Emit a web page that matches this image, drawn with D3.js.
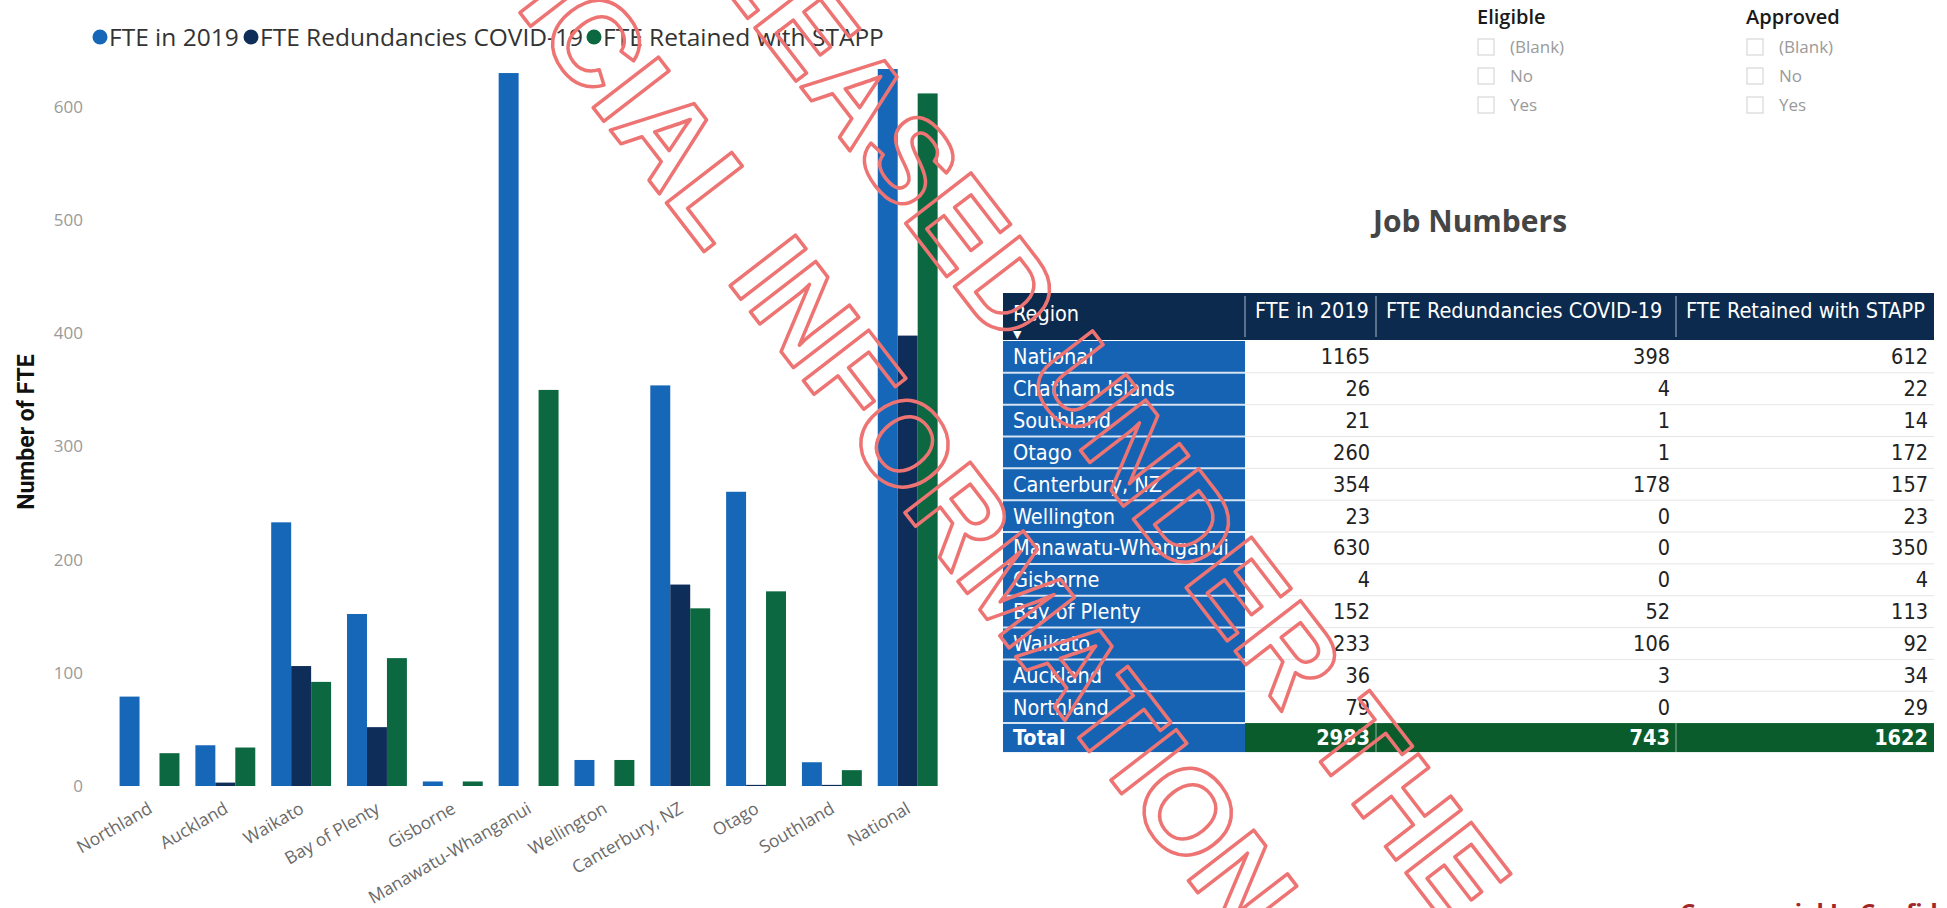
<!DOCTYPE html>
<html><head><meta charset="utf-8">
<script src="https://cdn.jsdelivr.net/npm/d3@7"></script>
<style>body{margin:0;background:#fff;overflow:hidden} svg{display:block}</style>
</head><body><svg id="c" width="1947" height="908"></svg>
<script>
// ---------- chart data ----------
const categories = ["Northland","Auckland","Waikato","Bay of Plenty","Gisborne","Manawatu-Whanganui","Wellington","Canterbury, NZ","Otago","Southland","National"];
const fte2019 = [79, 36, 233, 152, 4, 630, 23, 354, 260, 21, 1165];
const redundancies = [0, 3, 106, 52, 0, 0, 0, 178, 1, 1, 398];
const retained = [29, 34, 92, 113, 4, 350, 23, 157, 172, 14, 612];
const yTicks = [0, 100, 200, 300, 400, 500, 600];
const seriesNames = ["FTE in 2019", "FTE Redundancies COVID-19", "FTE Retained with STAPP"];
const seriesColors = ["#1767b8", "#0f2d59", "#0c6840"];
const yTitle = "Number of FTE";

// ---------- table data ----------
const tableHeaders = ["Region", "FTE in 2019", "FTE Redundancies COVID-19", "FTE Retained with STAPP"];
const tableRegions = ["National","Chatham Islands","Southland","Otago","Canterbury, NZ","Wellington","Manawatu-Whanganui","Gisborne","Bay of Plenty","Waikato","Auckland","Northland"];
const tableFte = [1165, 26, 21, 260, 354, 23, 630, 4, 152, 233, 36, 79];
const tableRed = [398, 4, 1, 1, 178, 0, 0, 0, 52, 106, 3, 0];
const tableRet = [612, 22, 14, 172, 157, 23, 350, 4, 113, 92, 34, 29];
const tableTotals = [2983, 743, 1622];
const tableTitle = "Job Numbers";

// ---------- slicers / annotations ----------
const slicerTitles = ["Eligible", "Approved"];
const slicerItems = ["(Blank)", "No", "Yes"];
const watermarkLines = ["RELEASED UNDER THE", "OFFICIAL INFORMATION ACT"];
const footerText = "Commercial In Confidence";

const svg = d3.select("#c");
svg.append("rect").attr("width",1947).attr("height",908).attr("fill","#fff");

// ================= BAR CHART =================
const baseY = 786, clipTop = 69;
const x0 = d3.scaleBand().domain(categories).range([111.6, 945.6]).paddingInner(0.21).paddingOuter(0.105);
const x1 = d3.scaleBand().domain(d3.range(seriesNames.length)).range([0, x0.bandwidth()]);
const y = d3.scaleLinear().domain([0, 600]).range([baseY, 107]);

svg.append("defs").append("clipPath").attr("id","plotclip")
  .append("rect").attr("x",100).attr("y",clipTop).attr("width",870).attr("height",baseY-clipTop+1);

const series = [fte2019, redundancies, retained];
const plot = svg.append("g").attr("clip-path","url(#plotclip)");
const groups = plot.selectAll("g.grp").data(categories).join("g")
  .attr("class","grp").attr("transform", d => `translate(${x0(d)},0)`);
groups.selectAll("rect").data((d,i) => series.map((s,k) => ({k, v: s[i]}))).join("rect")
  .attr("x", d => x1(d.k)).attr("width", x1.bandwidth())
  .attr("y", d => y(d.v)).attr("height", d => baseY - y(d.v))
  .attr("fill", d => seriesColors[d.k]);

// y axis
const yAxis = svg.append("g").attr("transform","translate(88,0)")
  .call(d3.axisLeft(y).tickValues(yTicks).tickSize(0).tickPadding(5));
yAxis.select(".domain").remove();
yAxis.selectAll("text").attr("font-family","'Open Sans', sans-serif").attr("font-size",17).attr("fill","#9a9a9a");

svg.append("text").attr("transform","translate(26,432) rotate(-90)")
  .attr("text-anchor","middle").attr("dy","0.35em").attr("font-family","'Liberation Sans Narrow','Roboto',sans-serif")
  .attr("font-weight","bold").attr("font-size",23).attr("fill","#111").text(yTitle);

// x axis
const xAxis = svg.append("g").attr("transform",`translate(0,${baseY})`)
  .call(d3.axisBottom(x0).tickSize(0).tickPadding(0));
xAxis.select(".domain").remove();
xAxis.selectAll("text").attr("y",0).attr("dy",0)
  .attr("text-anchor","end").attr("transform","translate(4,26) rotate(-30)")
  .attr("font-family","'Open Sans', sans-serif").attr("font-size",17.5).attr("fill","#6a6a6a");

// legend
const legend = svg.append("g").attr("transform","translate(0,37)");
const legendX = [100, 251, 594];
seriesNames.forEach((name,i) => {
  legend.append("circle").attr("cx",legendX[i]).attr("cy",0).attr("r",7.5).attr("fill",seriesColors[i]);
  legend.append("text").attr("x",legendX[i]+9).attr("y",0).attr("dy","0.35em")
    .attr("font-family","'Open Sans', sans-serif").attr("font-size",24.5).attr("fill","#333").text(name);
});

// ================= SLICERS =================
const slicerX = [1477, 1746];
slicerTitles.forEach((title,i) => {
  const g = svg.append("g").attr("transform",`translate(${slicerX[i]},0)`);
  g.append("text").attr("x",0).attr("y",17).attr("dy","0.35em")
    .attr("font-family","'Open Sans', sans-serif").attr("font-weight","600").attr("font-size",20)
    .attr("fill","#1a1a1a").text(title);
  slicerItems.forEach((item,j) => {
    const cy = 47 + j*29;
    g.append("rect").attr("x",1).attr("y",cy-8).attr("width",16).attr("height",16)
      .attr("fill","none").attr("stroke","#d8d8d8").attr("stroke-width",1.2);
    g.append("text").attr("x",33).attr("y",cy).attr("dy","0.35em")
      .attr("font-family","'Open Sans', sans-serif").attr("font-size",17).attr("fill","#9a9a9a").text(item);
  });
});

// ================= TABLE =================
svg.append("text").attr("x",1470).attr("y",221).attr("dy","0.35em").attr("text-anchor","middle")
  .attr("font-family","'Open Sans', sans-serif").attr("font-weight","bold").attr("font-size",30)
  .attr("fill","#454545").text(tableTitle);

const colX = [1003, 1245, 1376, 1676, 1934];
const headTop = 293, headH = 47, rowTop = 341, rowH = 31.84;
const totTop = rowTop + tableRegions.length*rowH, totH = 29;
const tf = "'Liberation Sans Narrow','DejaVu Sans Condensed','Roboto',sans-serif";
const tbl = svg.append("g");

// header
tbl.append("rect").attr("x",colX[0]).attr("y",headTop).attr("width",colX[4]-colX[0]).attr("height",headH).attr("fill","#0c2a4d");
[1,2,3].forEach(k => tbl.append("line").attr("x1",colX[k]).attr("x2",colX[k]).attr("y1",headTop+3).attr("y2",headTop+headH-3).attr("stroke","#a9b6c6").attr("stroke-width",1));
tableHeaders.forEach((h,k) => {
  tbl.append("text").attr("x",colX[k]+10).attr("y",k===0?313:310).attr("dy","0.35em")
    .attr("font-family",tf).attr("font-size",21.5).attr("fill","#fff").text(h);
});
tbl.append("text").attr("x",1013).attr("y",334).attr("dy","0.35em")
  .attr("font-family","'DejaVu Sans',sans-serif").attr("font-size",11).attr("fill","#fff").text("▼");

// label column
tbl.append("rect").attr("x",colX[0]).attr("y",rowTop).attr("width",colX[1]-colX[0]).attr("height",tableRegions.length*rowH+totH).attr("fill","#1763b3");
const valCols = [tableFte, tableRed, tableRet];
tableRegions.forEach((r,i) => {
  const ty = rowTop + i*rowH;
  const cy = ty + rowH/2;
  if (i>0) {
    tbl.append("line").attr("x1",colX[0]).attr("x2",colX[1]).attr("y1",ty).attr("y2",ty).attr("stroke","#d5e3f3").attr("stroke-width",2);
    tbl.append("line").attr("x1",colX[1]).attr("x2",colX[4]).attr("y1",ty).attr("y2",ty).attr("stroke","#e6e6e6").attr("stroke-width",1);
  }
  tbl.append("text").attr("x",colX[0]+10).attr("y",cy).attr("dy","0.35em")
    .attr("font-family",tf).attr("font-size",21.5).attr("fill","#fff").text(r);
  valCols.forEach((vals,k) => {
    tbl.append("text").attr("x",colX[k+2]-6).attr("y",cy).attr("dy","0.35em").attr("text-anchor","end")
      .attr("font-family",tf).attr("font-size",21.5).attr("fill","#222").text(vals[i]);
  });
});
// total row
tbl.append("line").attr("x1",colX[0]).attr("x2",colX[1]).attr("y1",totTop).attr("y2",totTop).attr("stroke","#d5e3f3").attr("stroke-width",2);
tbl.append("rect").attr("x",colX[1]).attr("y",totTop).attr("width",colX[4]-colX[1]).attr("height",totH).attr("fill","#0a5c2c");
[2,3].forEach(k => tbl.append("line").attr("x1",colX[k]).attr("x2",colX[k]).attr("y1",totTop).attr("y2",totTop+totH).attr("stroke","#8fb59d").attr("stroke-width",1));
tbl.append("text").attr("x",colX[0]+10).attr("y",totTop+totH/2).attr("dy","0.35em")
  .attr("font-family",tf).attr("font-weight","bold").attr("font-size",21.5).attr("fill","#fff").text("Total");
tableTotals.forEach((v,k) => {
  tbl.append("text").attr("x",colX[k+2]-6).attr("y",totTop+totH/2).attr("dy","0.35em").attr("text-anchor","end")
    .attr("font-family",tf).attr("font-weight","bold").attr("font-size",21.5).attr("fill","#fff").text(v);
});

// footer (mostly cut off at the bottom edge, as in the scan)
svg.append("text").attr("x",1680).attr("y",921).attr("font-family","'Open Sans', sans-serif")
  .attr("font-weight","bold").attr("font-size",24).attr("fill","#a3262a").text(footerText);

// ================= WATERMARK =================
const wm = svg.append("g").attr("transform","translate(1060,355) rotate(52.4)");
watermarkLines.forEach((line,i) => {
  wm.append("text").attr("x",0).attr("y",42 + i*177).attr("text-anchor","middle")
    .attr("font-family","'Liberation Sans',Arial,sans-serif").attr("font-weight","bold").attr("font-size",120)
    .attr("fill","none").attr("stroke","#ee7474").attr("stroke-width",3.5).attr("stroke-linejoin","round")
    .text(line);
});
</script></body></html>
